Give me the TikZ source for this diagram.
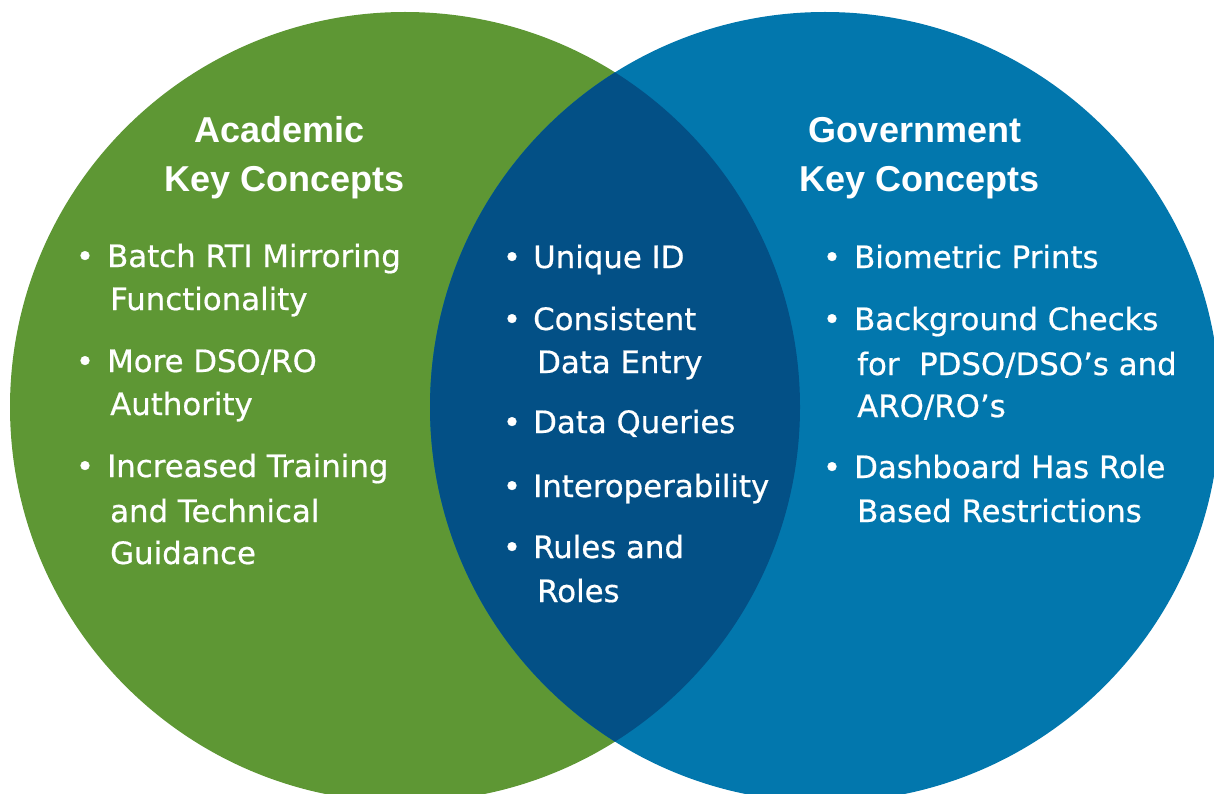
\documentclass[tikz,border=0pt]{standalone}
\usepackage{fontspec}
\setmainfont{Liberation Sans}
\newfontfamily\bodyfont[FakeBold=0.6]{DejaVu Sans}
\definecolor{acgreen}{HTML}{5E9734}
\definecolor{govblue}{HTML}{0277AD}
\definecolor{sharedblue}{HTML}{035086}
\tikzset{
  titletext/.style={inner sep=0pt, text=white, anchor=base, font=\fontsize{36}{42}\selectfont\bfseries},
  bodytext/.style={inner sep=0pt, text=white, anchor=base west, font=\bodyfont\fontsize{30.8}{36}\selectfont},
  bullettext/.style={inner sep=0pt, text=white, anchor=base, font=\bodyfont\fontsize{30.8}{36}\selectfont}
}
\begin{document}
\begin{tikzpicture}[x=1pt,y=-1pt]
\useasboundingbox (0,0) rectangle (1214,794);
\clip (0,0) rectangle (1214,794);
% circles
\fill[acgreen] (405,407) circle (395pt);
\fill[govblue] (825,407) circle (395pt);
\begin{scope}
  \clip (405,407) circle (395pt);
  \fill[sharedblue] (825,407) circle (395pt);
\end{scope}
% titles
\node[titletext] (acT1) at (279.5,143) {Academic};
\node[titletext] (acT2) at (285,192) {Key Concepts};
\node[titletext] (gvT1) at (915,143) {Government};
\node[titletext] (gvT2) at (920,192) {Key Concepts};
% left items
\node[bullettext] (acB1) at (85,267) {•};
\node[bodytext] (ac1a) at (107,267) {Batch RTI Mirroring};
\node[bodytext] (ac1b) at (110,310) {Functionality};
\node[bullettext] (acB2) at (85,372) {•};
\node[bodytext] (ac2a) at (107,372) {More DSO/RO};
\node[bodytext] (ac2b) at (110,415) {Authority};
\node[bullettext] (acB3) at (85,477) {•};
\node[bodytext] (ac3a) at (107,477) {Increased Training};
\node[bodytext] (ac3b) at (110,522) {and Technical};
\node[bodytext] (ac3c) at (110,564) {Guidance};
% middle items
\node[bullettext] (mdB1) at (512,268) {•};
\node[bodytext] (md1a) at (533,268) {Unique ID};
\node[bullettext] (mdB2) at (512,330) {•};
\node[bodytext] (md2a) at (533,330) {Consistent};
\node[bodytext] (md2b) at (537,373) {Data Entry};
\node[bullettext] (mdB3) at (512,433) {•};
\node[bodytext] (md3a) at (533,433) {Data Queries};
\node[bullettext] (mdB4) at (512,497) {•};
\node[bodytext] (md4a) at (533,497) {Interoperability};
\node[bullettext] (mdB5) at (512,558) {•};
\node[bodytext] (md5a) at (533,558) {Rules and};
\node[bodytext] (md5b) at (537,602) {Roles};
% right items
\node[bullettext] (gvB1) at (832,268) {•};
\node[bodytext] (gv1a) at (854,268) {Biometric Prints};
\node[bullettext] (gvB2) at (832,330) {•};
\node[bodytext] (gv2a) at (854,330) {Background Checks};
\node[bodytext] (gv2b) at (857,375) {for\ \ PDSO/DSO’s and};
\node[bodytext] (gv2c) at (857,417) {ARO/RO’s};
\node[bullettext] (gvB3) at (832,478) {•};
\node[bodytext] (gv3a) at (854,478) {Dashboard Has Role};
\node[bodytext] (gv3b) at (857,522) {Based Restrictions};
\end{tikzpicture}
\end{document}
